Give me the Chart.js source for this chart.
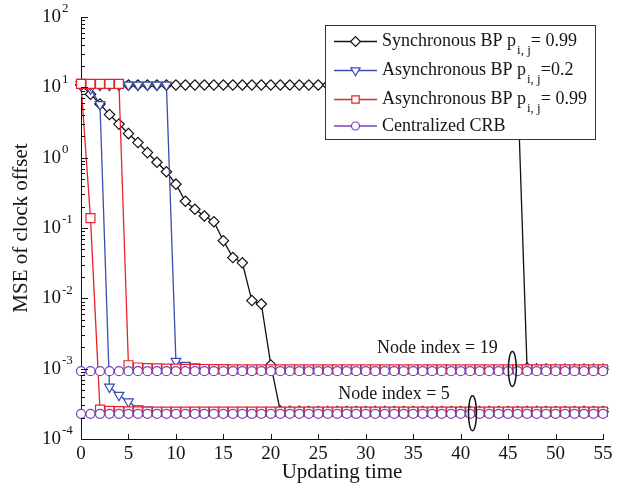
<!DOCTYPE html>
<html><head><meta charset="utf-8">
<script src="https://cdn.jsdelivr.net/npm/chart.js@4.4.1/dist/chart.umd.min.js"></script>
<style>html,body{margin:0;padding:0;background:#fff;}#wrap{width:629px;height:487px;}</style>
</head><body><div id="wrap"><canvas id="c" width="629" height="487"></canvas></div>
<script>
// ---------- data ----------
const times = [0,1,2,3,4,5,6,7,8,9,10,11,12,13,14,15,16,17,18,19,20,21,22,23,24,25,26,27,28,29,30,31,32,33,34,35,36,37,38,39,40,41,42,43,44,45,46,47,48,49,50,51,52,53,54,55];

// Synchronous BP p=0.99
const syncNode19 = [10.8,10.8,10.8,10.8,10.8,10.8,10.8,10.8,10.8,10.8,10.8,10.8,10.8,10.8,10.8,10.8,10.8,10.8,10.8,10.8,10.8,10.8,10.8,10.8,10.8,10.8,10.8,10.8,10.8,10.8,10.8,10.8,10.8,10.8,10.8,10.8,10.8,10.8,10.8,10.8,10.8,10.8,10.8,10.8,10.8,10.8,10.8,1.02e-3,9.9e-4,9.85e-4,9.8e-4,9.8e-4,9.8e-4,9.8e-4,9.8e-4,9.8e-4];
const syncNode5 = [10.8,8.0,5.8,4.1,3.0,2.2,1.64,1.18,0.86,0.63,0.42,0.24,0.185,0.148,0.123,0.066,0.038,0.032,0.0093,0.0083,0.00113,2.5e-4,2.48e-4,2.47e-4,2.46e-4,2.46e-4,2.45e-4,2.45e-4,2.45e-4,2.45e-4,2.45e-4,2.45e-4,2.45e-4,2.45e-4,2.45e-4,2.45e-4,2.45e-4,2.45e-4,2.45e-4,2.45e-4,2.45e-4,2.45e-4,2.45e-4,2.45e-4,2.45e-4,2.45e-4,2.45e-4,2.45e-4,2.45e-4,2.45e-4,2.45e-4,2.45e-4,2.45e-4,2.45e-4,2.45e-4,2.45e-4];

// Asynchronous BP p=0.2
const async02Node19 = [10.8,10.8,10.8,10.8,10.8,10.8,10.8,10.8,10.8,10.8,1.28e-3,1.12e-3,1.07e-3,1.04e-3,1.02e-3,1.01e-3,1.0e-3,1.0e-3,9.95e-4,9.95e-4,9.9e-4,9.9e-4,9.9e-4,9.85e-4,9.85e-4,9.85e-4,9.8e-4,9.8e-4,9.8e-4,9.8e-4,9.8e-4,9.8e-4,9.8e-4,9.8e-4,9.8e-4,9.8e-4,9.8e-4,9.8e-4,9.8e-4,9.8e-4,9.8e-4,9.8e-4,9.8e-4,9.8e-4,9.8e-4,9.8e-4,9.8e-4,9.8e-4,9.8e-4,9.8e-4,9.8e-4,9.8e-4,9.8e-4,9.8e-4,9.8e-4,9.8e-4];
const async02Node5 = [10.8,9.6,5.7,5.5e-4,4.2e-4,3.4e-4,2.7e-4,2.6e-4,2.55e-4,2.52e-4,2.5e-4,2.49e-4,2.48e-4,2.47e-4,2.46e-4,2.46e-4,2.45e-4,2.45e-4,2.45e-4,2.45e-4,2.45e-4,2.45e-4,2.45e-4,2.45e-4,2.45e-4,2.45e-4,2.45e-4,2.45e-4,2.45e-4,2.45e-4,2.45e-4,2.45e-4,2.45e-4,2.45e-4,2.45e-4,2.45e-4,2.45e-4,2.45e-4,2.45e-4,2.45e-4,2.45e-4,2.45e-4,2.45e-4,2.45e-4,2.45e-4,2.45e-4,2.45e-4,2.45e-4,2.45e-4,2.45e-4,2.45e-4,2.45e-4,2.45e-4,2.45e-4,2.45e-4,2.45e-4];

// Asynchronous BP p=0.99
const async099Node19 = [11.2,11.2,11.2,11.2,11.2,1.12e-3,1.04e-3,1.02e-3,1.01e-3,1.0e-3,1.0e-3,9.95e-4,9.9e-4,9.9e-4,9.85e-4,9.85e-4,9.8e-4,9.8e-4,9.8e-4,9.8e-4,9.8e-4,9.8e-4,9.8e-4,9.8e-4,9.8e-4,9.8e-4,9.8e-4,9.8e-4,9.8e-4,9.8e-4,9.8e-4,9.8e-4,9.8e-4,9.8e-4,9.8e-4,9.8e-4,9.8e-4,9.8e-4,9.8e-4,9.8e-4,9.8e-4,9.8e-4,9.8e-4,9.8e-4,9.8e-4,9.8e-4,9.8e-4,9.8e-4,9.8e-4,9.8e-4,9.8e-4,9.8e-4,9.8e-4,9.8e-4,9.8e-4,9.8e-4];
const async099Node5 = [11.2,0.138,2.62e-4,2.52e-4,2.5e-4,2.48e-4,2.47e-4,2.46e-4,2.46e-4,2.45e-4,2.45e-4,2.45e-4,2.45e-4,2.45e-4,2.45e-4,2.45e-4,2.45e-4,2.45e-4,2.45e-4,2.45e-4,2.45e-4,2.45e-4,2.45e-4,2.45e-4,2.45e-4,2.45e-4,2.45e-4,2.45e-4,2.45e-4,2.45e-4,2.45e-4,2.45e-4,2.45e-4,2.45e-4,2.45e-4,2.45e-4,2.45e-4,2.45e-4,2.45e-4,2.45e-4,2.45e-4,2.45e-4,2.45e-4,2.45e-4,2.45e-4,2.45e-4,2.45e-4,2.45e-4,2.45e-4,2.45e-4,2.45e-4,2.45e-4,2.45e-4,2.45e-4,2.45e-4,2.45e-4];

// Centralized CRB
const crbNode19 = [9.2e-4,9.2e-4,9.2e-4,9.2e-4,9.2e-4,9.2e-4,9.2e-4,9.2e-4,9.2e-4,9.2e-4,9.2e-4,9.2e-4,9.2e-4,9.2e-4,9.2e-4,9.2e-4,9.2e-4,9.2e-4,9.2e-4,9.2e-4,9.2e-4,9.2e-4,9.2e-4,9.2e-4,9.2e-4,9.2e-4,9.2e-4,9.2e-4,9.2e-4,9.2e-4,9.2e-4,9.2e-4,9.2e-4,9.2e-4,9.2e-4,9.2e-4,9.2e-4,9.2e-4,9.2e-4,9.2e-4,9.2e-4,9.2e-4,9.2e-4,9.2e-4,9.2e-4,9.2e-4,9.2e-4,9.2e-4,9.2e-4,9.2e-4,9.2e-4,9.2e-4,9.2e-4,9.2e-4,9.2e-4,9.2e-4];
const crbNode5 = [2.28e-4,2.28e-4,2.28e-4,2.28e-4,2.28e-4,2.28e-4,2.28e-4,2.28e-4,2.28e-4,2.28e-4,2.28e-4,2.28e-4,2.28e-4,2.28e-4,2.28e-4,2.28e-4,2.28e-4,2.28e-4,2.28e-4,2.28e-4,2.28e-4,2.28e-4,2.28e-4,2.28e-4,2.28e-4,2.28e-4,2.28e-4,2.28e-4,2.28e-4,2.28e-4,2.28e-4,2.28e-4,2.28e-4,2.28e-4,2.28e-4,2.28e-4,2.28e-4,2.28e-4,2.28e-4,2.28e-4,2.28e-4,2.28e-4,2.28e-4,2.28e-4,2.28e-4,2.28e-4,2.28e-4,2.28e-4,2.28e-4,2.28e-4,2.28e-4,2.28e-4,2.28e-4,2.28e-4,2.28e-4,2.28e-4];

const xTicks = [0,5,10,15,20,25,30,35,40,45,50,55];
const yTickValues = [1e-4,1e-3,1e-2,1e-1,1e0,1e1,1e2];
const yTickExps = ['-4','-3','-2','-1','0','1','2'];

const legendMain = ['Synchronous BP p','Asynchronous BP p','Asynchronous BP p','Centralized CRB'];
const legendSub = ['i, j','i, j','i, j',''];
const legendTail = ['= 0.99','=0.2','= 0.99',''];

const noteTexts = ['Node index = 19','Node index = 5'];
const noteX = [31.2, 27.1];
const noteY = [1.97e-3, 4.33e-4];
const ellX = [45.45, 41.25];
const ellY = [9.9e-4, 2.32e-4];

// ---------- styles ----------
const FONT = '"Liberation Serif","Times New Roman",Times,serif';
const TXT = '#151515';
const C_BLACK = '#111111', C_BLUE = '#3a4cae', C_RED = '#e4242a', C_PURPLE = '#7344b2';

function pts(vals){ return vals.map((v,i)=>({x:times[i], y:v})); }

const methods = [
  {color:C_BLACK, style:'rectRot', rot:0, r:5.2, d:[syncNode19, syncNode5], order:3},
  {color:C_BLUE, style:'triangle', rot:180, r:5.6, d:[async02Node19, async02Node5], order:2},
  {color:C_RED, style:'rect', rot:0, r:6.3, d:[async099Node19, async099Node5], order:1},
  {color:C_PURPLE, style:'circle', rot:0, r:4.5, d:[crbNode19, crbNode5], order:0}
];

const datasets = [];
methods.forEach(m=>{
  m.d.forEach(vals=>{
    datasets.push({
      data: pts(vals),
      borderColor: m.color,
      borderWidth: 1.3,
      pointStyle: m.style,
      rotation: m.rot,
      pointRadius: m.r,
      pointBorderColor: m.color,
      pointBackgroundColor: '#ffffff',
      pointBorderWidth: 1.2,
      tension: 0,
      order: m.order,
      clip: false
    });
  });
});

function drawMarker(ctx, style, x, y, r, color){
  ctx.save();
  ctx.strokeStyle = color; ctx.fillStyle = '#fff'; ctx.lineWidth = 1.2;
  ctx.beginPath();
  if (style==='rectRot'){ ctx.moveTo(x,y-r); ctx.lineTo(x+r,y); ctx.lineTo(x,y+r); ctx.lineTo(x-r,y); ctx.closePath(); }
  else if (style==='triangle'){ ctx.moveTo(x,y+r); ctx.lineTo(x-r*0.866,y-r/2); ctx.lineTo(x+r*0.866,y-r/2); ctx.closePath(); }
  else if (style==='rect'){ const s=r*Math.SQRT1_2; ctx.rect(x-s,y-s,2*s,2*s); }
  else { ctx.arc(x,y,r,0,Math.PI*2); }
  ctx.fill(); ctx.stroke();
  ctx.restore();
}

const decor = {
  id:'decor',
  afterDatasetsDraw(chart){
    const ctx = chart.ctx, xs = chart.scales.x, ys = chart.scales.y, a = chart.chartArea;
    ctx.save();
    ctx.strokeStyle = '#111'; ctx.lineWidth = 1;
    for (let d=-4; d<2; d++){
      for (let k=1;k<10;k++){
        const v = k*Math.pow(10,d);
        const py = Math.round(ys.getPixelForValue(v))+0.5;
        const len = k===1 ? 7 : 4;
        ctx.beginPath(); ctx.moveTo(a.left, py); ctx.lineTo(a.left+len, py); ctx.stroke();
      }
    }
    { const py = Math.round(ys.getPixelForValue(100))+0.5; ctx.beginPath(); ctx.moveTo(a.left,py); ctx.lineTo(a.left+7,py); ctx.stroke(); }
    xTicks.forEach(v=>{
      const px = Math.round(xs.getPixelForValue(v))+0.5;
      ctx.beginPath(); ctx.moveTo(px, a.bottom); ctx.lineTo(px, a.bottom-5); ctx.stroke();
    });
    ctx.fillStyle = TXT;
    yTickValues.forEach((v,i)=>{
      const py = ys.getPixelForValue(v);
      ctx.font = '19px '+FONT; ctx.textAlign='right'; ctx.textBaseline='middle';
      ctx.fillText('10', 61, py);
      ctx.font = '13px '+FONT; ctx.textAlign='left';
      ctx.fillText(yTickExps[i], 62, py-8);
    });
    ctx.restore();
  },
  afterDraw(chart){
    const ctx = chart.ctx, xs = chart.scales.x, ys = chart.scales.y;
    ctx.save();
    ctx.strokeStyle = '#111'; ctx.lineWidth = 1.5;
    ellX.forEach((v,i)=>{
      const px = xs.getPixelForValue(v), py = ys.getPixelForValue(ellY[i]);
      ctx.beginPath(); ctx.ellipse(px, py, 4, 17.5, 0, 0, Math.PI*2); ctx.stroke();
    });
    ctx.fillStyle = TXT; ctx.font = '18px '+FONT; ctx.textAlign='left'; ctx.textBaseline='middle';
    noteTexts.forEach((t,i)=>{
      ctx.fillText(t, xs.getPixelForValue(noteX[i]), ys.getPixelForValue(noteY[i]));
    });
    const L=325.5, T=25.5, W=270, H=114;
    ctx.fillStyle='#fff'; ctx.fillRect(L,T,W,H);
    ctx.strokeStyle='#333'; ctx.lineWidth=1; ctx.strokeRect(L,T,W,H);
    const rows=[41.5,70.5,99.5,126];
    methods.forEach((m,i)=>{
      const y = rows[i];
      ctx.strokeStyle=m.color; ctx.lineWidth=1.3;
      ctx.beginPath(); ctx.moveTo(334,y); ctx.lineTo(377,y); ctx.stroke();
      drawMarker(ctx, m.style, 355.5, y, m.style==='circle'?4:(m.style==='rect'?5.2:m.r*0.95), m.color);
      ctx.fillStyle=TXT; ctx.font='18px '+FONT; ctx.textAlign='left'; ctx.textBaseline='middle';
      let x = 382;
      ctx.fillText(legendMain[i], x, y);
      x += ctx.measureText(legendMain[i]).width;
      if (legendSub[i]){
        ctx.font='13px '+FONT;
        ctx.fillText(legendSub[i], x+1, y+9);
        x += ctx.measureText(legendSub[i]).width + 1;
        ctx.font='18px '+FONT;
        ctx.fillText(legendTail[i], x, y);
      }
    });
    ctx.restore();
  }
};

new Chart(document.getElementById('c'), {
  type:'line',
  data:{datasets},
  options:{
    responsive:false,
    animation:false,
    devicePixelRatio:1,
    layout:{padding:{top:17,right:26,left:0,bottom:0}},
    plugins:{legend:{display:false}, tooltip:{enabled:false}},
    scales:{
      x:{
        type:'linear', min:0, max:55,
        afterBuildTicks(s){ s.ticks = xTicks.map(v=>({value:v})); },
        afterFit(s){ s.height = 48; },
        grid:{display:false, drawTicks:false},
        border:{display:true, color:'#111', width:1},
        ticks:{color:TXT, font:{family:FONT, size:19}, padding:4, maxRotation:0, autoSkip:false},
        title:{display:true, text:'Updating time', color:TXT, font:{family:FONT, size:21}, padding:{top:0,bottom:1.5}}
      },
      y:{
        type:'logarithmic', min:1e-4, max:1e2,
        afterFit(s){ s.width = 81; },
        grid:{display:false, drawTicks:false},
        border:{display:true, color:'#111', width:1},
        ticks:{display:false},
        title:{display:true, text:'MSE of clock offset', color:TXT, font:{family:FONT, size:21}, padding:{top:9,bottom:0}}
      }
    }
  },
  plugins:[decor]
});
</script>
</body></html>
